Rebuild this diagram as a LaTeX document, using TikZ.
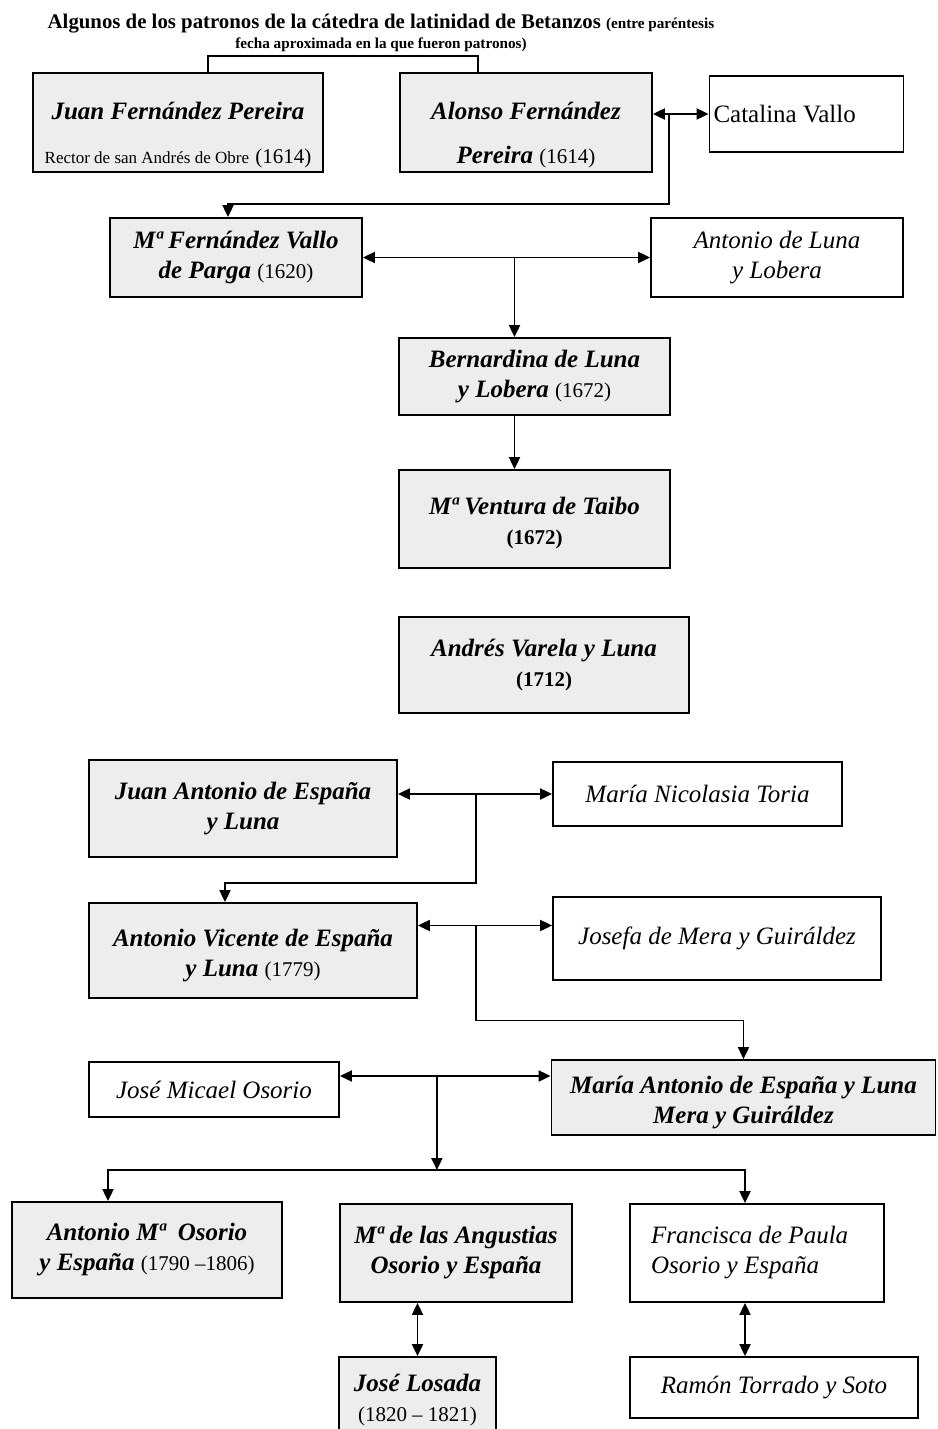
\documentclass[tikz,border=0pt]{standalone}
\usepackage{fontspec}
\setmainfont{Liberation Serif}
\usetikzlibrary{arrows.meta}

\newcommand{\fecha}[1]{{\fontsize{10.5}{15}\selectfont\mdseries\upshape #1}}
\newcommand{\fechab}[1]{{\fontsize{10.5}{15}\selectfont\bfseries\upshape #1}}
\newcommand{\rector}{\fontsize{8.5}{15}\selectfont\mdseries\upshape}

\tikzset{
    >={Triangle[length=6pt,width=5.5pt]},
    pbox/.style={draw, line width=0.9pt, fill=black!7, align=center, inner sep=2pt,
        font=\fontsize{12.5}{15}\selectfont\bfseries\itshape},
    wbox/.style={draw, line width=0.9pt, fill=white, align=center, inner sep=2pt,
        font=\fontsize{12.5}{15}\selectfont\itshape},
    link/.style={line width=0.95pt},
}

\begin{document}
\begin{tikzpicture}[x=0.5pt,y=-0.5pt]
    \path[fill=white] (0,0) rectangle (937,1429);
    \useasboundingbox (0,0) rectangle (937,1429);

    \node[font=\fontsize{10.4}{10}\selectfont\bfseries, align=center] (titulo) at (381,33)
        {Algunos de los patronos de la cátedra de latinidad de Betanzos {\fontsize{7.6}{10}\selectfont(entre paréntesis}\\
         {\fontsize{7.6}{10}\selectfont fecha aproximada en la que fueron patronos)}};

    % primera generacion
    \node[pbox, inner ysep=0pt, minimum width=145pt, minimum height=49.5pt] (juan) at (178,122.5)
        {\rule{0pt}{21pt}Juan Fernández Pereira\\[7pt]{\rector Rector de san Andrés de Obre} \fecha{(1614)}};
    \node[pbox, inner ysep=0pt, minimum width=126pt, minimum height=49.5pt] (alonso) at (526,122.5)
        {\rule{0pt}{21pt}Alonso Fernández\\[7pt]Pereira \fecha{(1614)}};
    \node[wbox, font=\fontsize{12.5}{15}\selectfont, align=flush left, text width=93pt,
        minimum width=96.5pt, minimum height=38pt] (catalina) at (806.5,114) {Catalina Vallo};

    \draw[link] ([xshift=15pt]juan.north) -- ++(0,-16) -| ([xshift=-24pt]alonso.north);
    \draw[link,<->] (alonso.east |- catalina.west) -- (catalina.west);
    \coordinate (c1) at ([xshift=8pt]alonso.east |- catalina.west);

    \node[pbox, minimum width=126pt, minimum height=39.5pt] (maria1) at (236,257.5)
        {Mª Fernández Vallo\\de Parga \fecha{(1620)}};
    \node[wbox, minimum width=126pt, minimum height=39.5pt] (antonioL) at (777,257.5)
        {Antonio de Luna\\y Lobera};

    \draw[link,->] (c1) -- ++(0,90) -| ([xshift=-4pt]maria1.north);
    \draw[link,<->] (maria1.east) -- (antonioL.west);

    % Luna
    \node[pbox, minimum width=135.5pt, minimum height=38.5pt] (bernardina) at (534.5,376.5)
        {Bernardina de Luna\\y Lobera \fecha{(1672)}};
    \node[pbox, minimum width=135.5pt, minimum height=49pt] (ventura) at (534.5,519)
        {\rule{0pt}{13pt}Mª Ventura de Taibo\\\fechab{(1672)}};
    \node[pbox, minimum width=145pt, minimum height=48pt] (andres) at (544,665)
        {Andrés Varela y Luna\\\fechab{(1712)}};

    \draw[link,->] ([xshift=-10pt]bernardina.north |- maria1.east) -- ([xshift=-10pt]bernardina.north);
    \draw[link,->] ([xshift=-10pt]bernardina.south) -- ([xshift=-10pt]ventura.north);

    % España
    \node[pbox, minimum width=154pt, minimum height=48.5pt] (juanA) at (243,808.5)
        {Juan Antonio de España\\y Luna};
    \node[wbox, minimum width=144.5pt, minimum height=32pt] (nicolasia) at (697.5,794)
        {María Nicolasia Toria};
    \node[pbox, minimum width=164pt, minimum height=47.5pt] (vicente) at (253,950.5)
        {\rule{0pt}{14pt}Antonio Vicente de España\\y Luna \fecha{(1779)}};
    \node[wbox, minimum width=164pt, minimum height=41.5pt] (josefa) at (717,938.5)
        {Josefa de Mera y Guiráldez};

    \draw[link,<->] (juanA.east |- nicolasia.west) -- (nicolasia.west);
    \coordinate (c2) at ([xshift=39pt]juanA.east |- nicolasia.west);
    \draw[link,->] (c2) -- ++(0,89) -| ([xshift=-14pt]vicente.north);

    \draw[link,<->] ([yshift=6.5pt]vicente.east |- josefa.west) -- ([yshift=6.5pt]josefa.west);
    \coordinate (c3) at ([yshift=6.5pt,xshift=29pt]vicente.east |- josefa.west);

    % Osorio
    \node[wbox, minimum width=125pt, minimum height=27.5pt] (micael) at (214,1089.5)
        {José Micael Osorio};
    \node[pbox, minimum width=192pt, minimum height=37.5pt] (mariaA) at (743.5,1097.5)
        {\rule{0pt}{14pt}María Antonio de España y Luna\\Mera y Guiráldez};

    \draw[link,->] (c3) -- ++(0,95) -| (mariaA.north);
    \draw[link,<->] ([yshift=6.75pt]micael.east) -- ([yshift=6.75pt]micael.east -| mariaA.west);
    \coordinate (c4) at ([yshift=6.75pt,xshift=48.5pt]micael.east);
    \coordinate (c5) at ([yshift=-47pt]c4);

    \node[pbox, minimum width=135pt, minimum height=48pt] (osorio) at (147,1250)
        {Antonio Mª\ \ Osorio\\y España \fecha{(1790 –1806)}};
    \node[pbox, minimum width=116pt, minimum height=49pt] (angustias) at (456,1253)
        {Mª de las Angustias\\Osorio y España};
    \node[wbox, align=flush left, text width=106pt, minimum width=127pt, minimum height=49pt] (francisca) at (757,1253)
        {Francisca de Paula\\Osorio y España};

    \draw[link,->] (c4) -- (c5);
    \draw[link,->] (c5) -| ([xshift=-19.5pt]osorio.north);
    \draw[link,->] (c5) -| ([xshift=-6pt]francisca.north);

    \node[pbox, minimum width=78.5pt, minimum height=43pt] (losada) at (417.5,1400)
        {José Losada\\\fecha{(1820 – 1821)}};
    \node[wbox, minimum width=144pt, minimum height=30.5pt] (torrado) at (774,1387.5)
        {Ramón Torrado y Soto};

    \draw[link,<->] (angustias.south -| losada.north) -- (losada.north);
    \draw[link,<->] ([xshift=-6pt]francisca.south) -- ([xshift=-6pt]francisca.south |- torrado.north);
\end{tikzpicture}
\end{document}
